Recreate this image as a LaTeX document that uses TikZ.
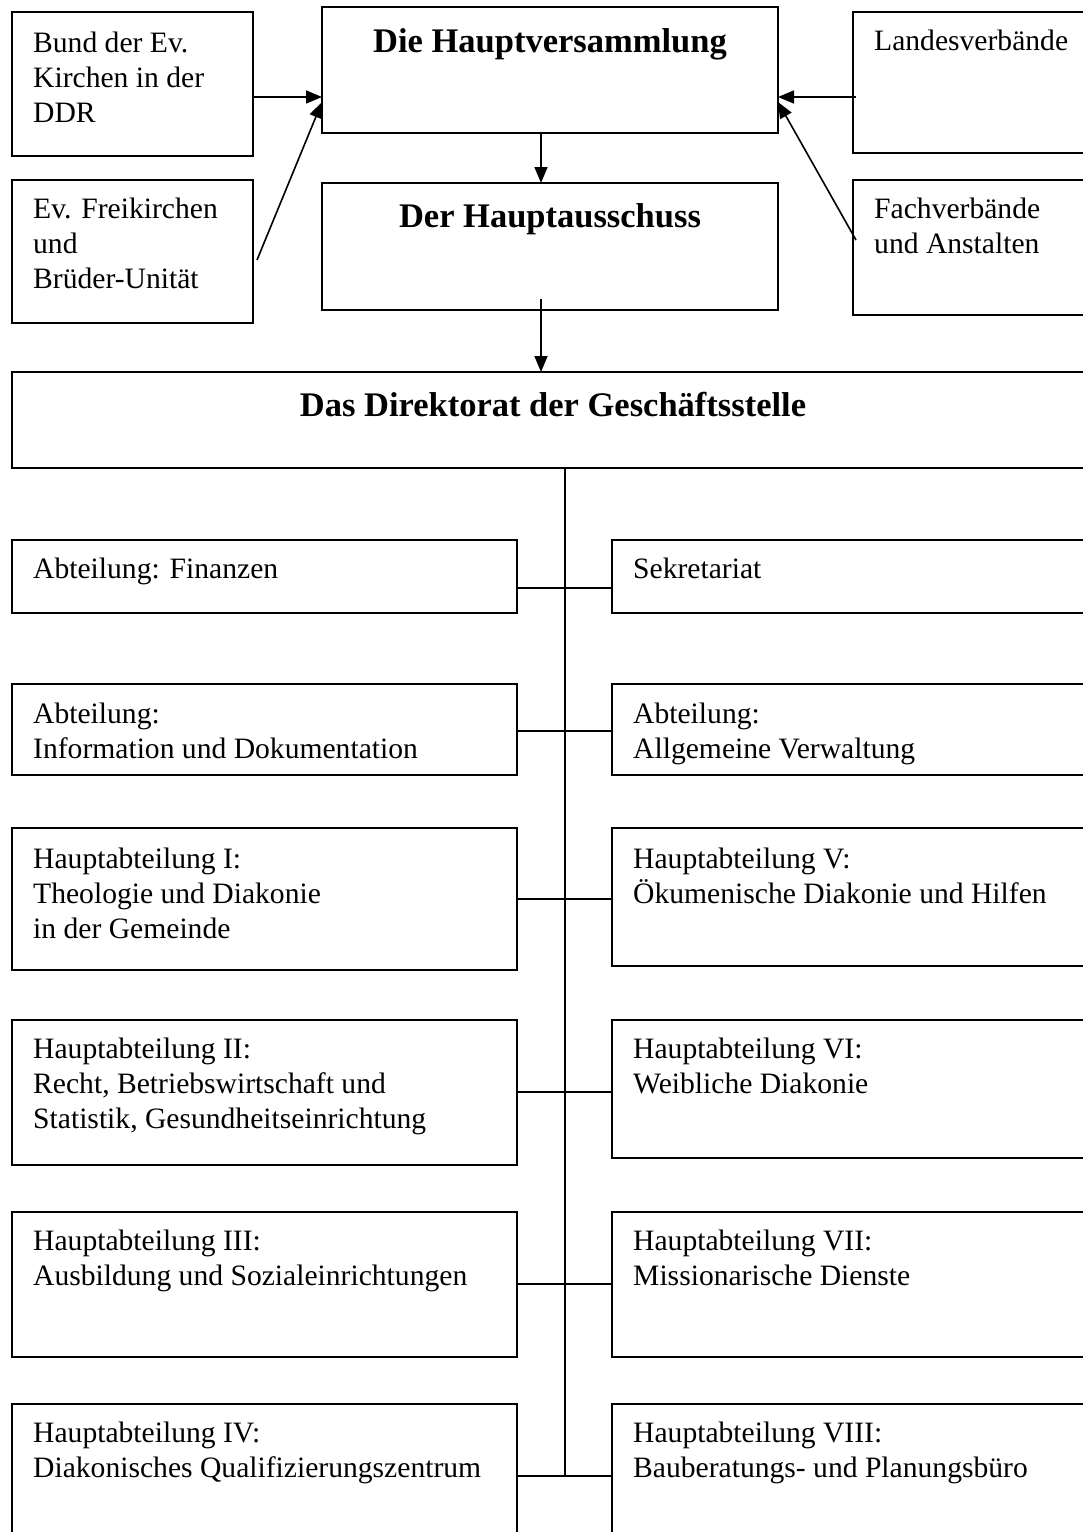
\documentclass[tikz,border=0pt]{standalone}
\usepackage{fontspec}
\setmainfont{Liberation Serif}
\usetikzlibrary{arrows.meta}
\begin{document}
\begin{tikzpicture}[x=1pt,y=-1pt,
  box/.style={draw, line width=1.8pt, rectangle, anchor=north west, inner sep=0pt, outer sep=0pt},
  txt/.style={anchor=base west, inner sep=0pt, align=left, font=\fontsize{29.6}{35}\selectfont},
  ttl/.style={anchor=base, inner sep=0pt, font=\fontsize{34.5}{40}\selectfont\bfseries},
  conn/.style={line width=1.6pt},
  arr/.style={line width=1.6pt, -{Triangle[length=16pt,width=13pt]}}]
\useasboundingbox (0,0) rectangle (1083,1532);
\clip (0,0) rectangle (1083,1532);

% top boxes
\node[box, minimum width=241, minimum height=144] (bund) at (12,12) {};
\node[box, minimum width=241, minimum height=143] (frei) at (12,180) {};
\node[box, minimum width=456, minimum height=126] (hv) at (322,7) {};
\node[box, minimum width=456, minimum height=127] (ha) at (322,183) {};
\node[box, minimum width=260, minimum height=141] (lv) at (853,12) {};
\node[box, minimum width=260, minimum height=135] (fv) at (853,180) {};
\node[box, minimum width=1100, minimum height=96] (dir) at (12,372) {};

% department boxes
\node[box, minimum width=505, minimum height=73] (L1) at (12,540) {};
\node[box, minimum width=500, minimum height=73] (R1) at (612,540) {};
\node[box, minimum width=505, minimum height=91] (L2) at (12,684) {};
\node[box, minimum width=500, minimum height=91] (R2) at (612,684) {};
\node[box, minimum width=505, minimum height=142] (L3) at (12,828) {};
\node[box, minimum width=500, minimum height=138] (R3) at (612,828) {};
\node[box, minimum width=505, minimum height=145] (L4) at (12,1020) {};
\node[box, minimum width=500, minimum height=138] (R4) at (612,1020) {};
\node[box, minimum width=505, minimum height=145] (L5) at (12,1212) {};
\node[box, minimum width=500, minimum height=145] (R5) at (612,1212) {};
\node[box, minimum width=505, minimum height=160] (L6) at (12,1404) {};
\node[box, minimum width=500, minimum height=160] (R6) at (612,1404) {};

% titles
\node[ttl] (thv) at (550,52) {Die Hauptversammlung};
\node[ttl] (tha) at (550,227) {Der Hauptausschuss};
\node[ttl] (tdir) at (553,416) {Das Direktorat der Geschäftsstelle};

% texts (anchor = baseline of the last line)
\node[txt] (tbund) at (33,122) {Bund der Ev.\\Kirchen in der\\DDR};
\node[txt] (tfrei) at (33,288) {Ev. Freikirchen\\und\\Brüder-Unität};
\node[txt] (tlv) at (874,50) {Landesverbände};
\node[txt] (tfv) at (874,253) {Fachverbände\\und Anstalten};

\node[txt] (tL1) at (33,578) {Abteilung: Finanzen};
\node[txt] (tR1) at (633,578) {Sekretariat};
\node[txt] (tL2) at (33,758) {Abteilung:\\Information und Dokumentation};
\node[txt] (tR2) at (633,758) {Abteilung:\\Allgemeine Verwaltung};
\node[txt] (tL3) at (33,938) {Hauptabteilung I:\\Theologie und Diakonie\\in der Gemeinde};
\node[txt] (tR3) at (633,903) {Hauptabteilung V:\\Ökumenische Diakonie und Hilfen};
\node[txt] (tL4) at (33,1128) {Hauptabteilung II:\\Recht, Betriebswirtschaft und\\Statistik, Gesundheitseinrichtung};
\node[txt] (tR4) at (633,1093) {Hauptabteilung VI:\\Weibliche Diakonie};
\node[txt] (tL5) at (33,1285) {Hauptabteilung III:\\Ausbildung und Sozialeinrichtungen};
\node[txt] (tR5) at (633,1285) {Hauptabteilung VII:\\Missionarische Dienste};
\node[txt] (tL6) at (33,1477) {Hauptabteilung IV:\\Diakonisches Qualifizierungszentrum};
\node[txt] (tR6) at (633,1477) {Hauptabteilung VIII:\\Bauberatungs- und Planungsbüro};

% arrows into Hauptversammlung
\coordinate (fa) at (257,260);
\coordinate (la) at (856,97);
\coordinate (fva) at (856,240);
\draw[arr] (bund.east |- 0,97) -- (hv.west |- 0,97);
\draw[arr] (fa) -- (hv.west |- 0,102);
\draw[arr] (la) -- (hv.east |- 0,97);
\draw[arr] (fva) -- (hv.east |- 0,102);

% vertical chain
\draw[arr] (hv.south -| 541,0) -- (ha.north -| 541,0);
\coordinate (hs) at (541,299);
\draw[arr] (hs) -- (dir.north -| hs);

% trunk and branches
\coordinate (tb) at (565,1476);
\draw[conn] (dir.south -| tb) -- (tb);
\draw[conn] (L1.east |- 0,588) -- (R1.west |- 0,588);
\draw[conn] (L2.east |- 0,731) -- (R2.west |- 0,731);
\draw[conn] (L3.east |- 0,899) -- (R3.west |- 0,899);
\draw[conn] (L4.east |- 0,1092) -- (R4.west |- 0,1092);
\draw[conn] (L5.east |- 0,1284) -- (R5.west |- 0,1284);
\draw[conn] (L6.east |- tb) -- (R6.west |- tb);
\end{tikzpicture}
\end{document}
